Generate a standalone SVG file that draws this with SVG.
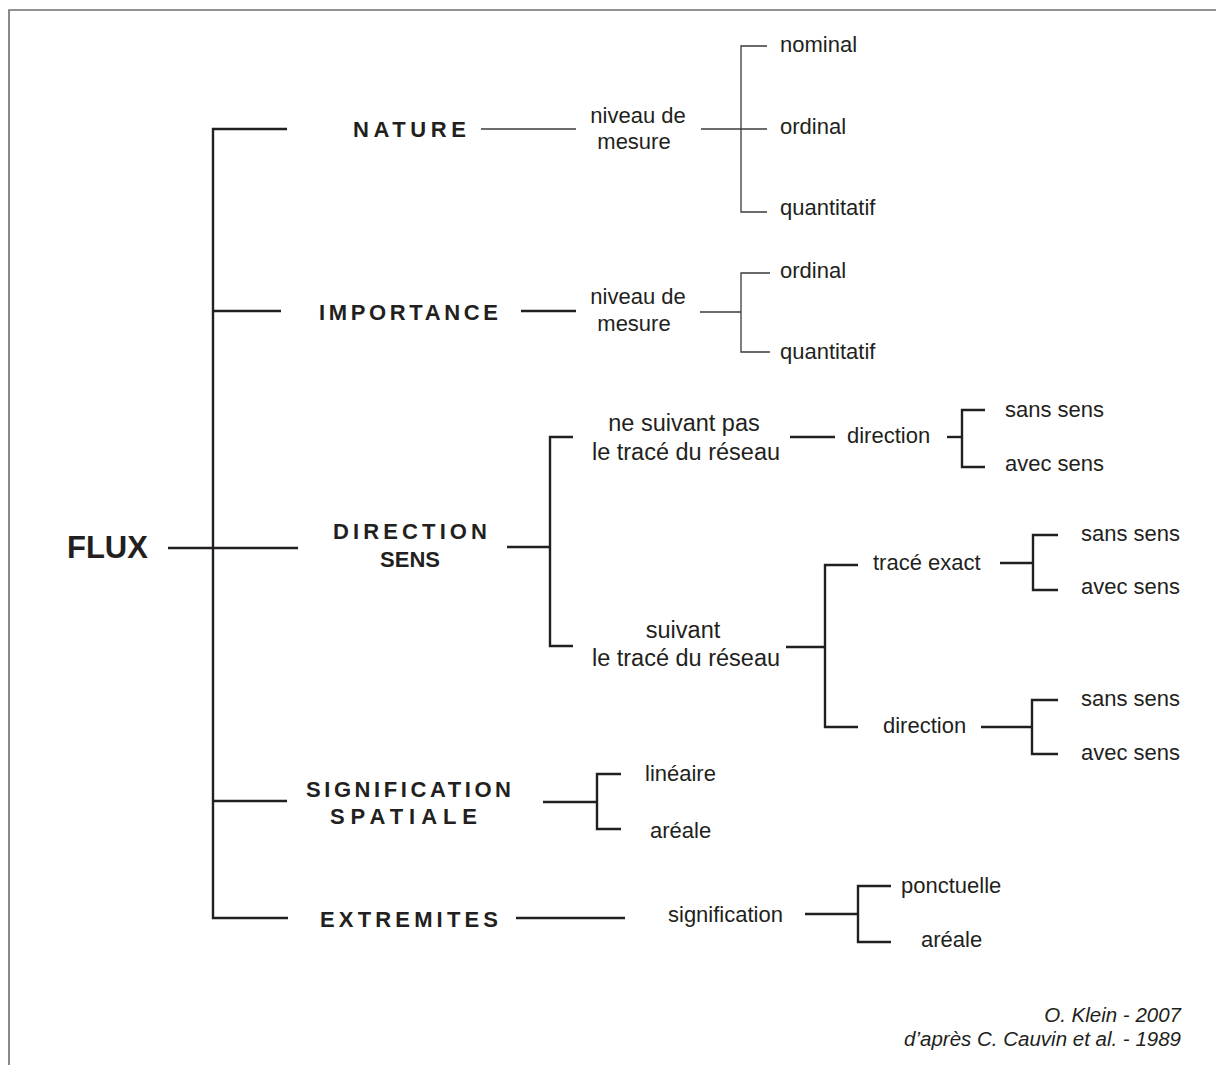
<svg xmlns="http://www.w3.org/2000/svg" width="1216" height="1065" viewBox="0 0 1216 1065">
  <style>
    .frame { fill: none; stroke: #6d6d6d; stroke-width: 1.6; }
    .thick { fill: none; stroke: #231f20; stroke-width: 2.4; }
    .thin { fill: none; stroke: #3a3a3a; stroke-width: 1.3; }
    .lbl { font-family: "Liberation Sans", Arial, sans-serif; font-size: 22px; fill: #231f20; }
    .big { font-size: 23.5px; }
    .cat { font-family: "Liberation Sans", Arial, sans-serif; font-size: 22px; font-weight: bold; fill: #231f20; }
    .root { font-family: "Liberation Sans", Arial, sans-serif; font-size: 31px; font-weight: bold; fill: #231f20; }
    .credit { font-family: "Liberation Sans", Arial, sans-serif; font-size: 20.5px; font-style: italic; fill: #231f20; text-anchor: end; }
    .mid { text-anchor: middle; }
  </style>

  <!-- page frame (top and left edges only) -->
  <path class="frame" d="M9,1065 V10 H1216"/>

  <!-- connectors -->
  <g id="connectors">
    <!-- main trunk -->
    <path class="thick" d="M168,548 H298"/>
    <path class="thick" d="M287,129 H213 V918 H288"/>
    <path class="thick" d="M213,311 H281"/>
    <path class="thick" d="M213,801 H287"/>

    <!-- NATURE -->
    <path class="thin" d="M481,129 H576"/>
    <path class="thin" d="M701,129 H767"/>
    <path class="thin" d="M767,46 H741 V212 H767"/>

    <!-- IMPORTANCE -->
    <path class="thick" d="M521,311 H576"/>
    <path class="thin" d="M700,312 H741"/>
    <path class="thin" d="M770,273 H741 V352 H770"/>

    <!-- DIRECTION SENS -->
    <path class="thick" d="M507,547 H550"/>
    <path class="thick" d="M573,437 H550 V646 H573"/>
    <path class="thick" d="M790,437 H835"/>
    <path class="thick" d="M947,437 H962"/>
    <path class="thick" d="M985,410 H962 V467 H985"/>
    <path class="thick" d="M786,647 H825"/>
    <path class="thick" d="M858,565 H825 V727 H858"/>
    <path class="thick" d="M1000,563 H1033"/>
    <path class="thick" d="M1058,535 H1033 V590 H1058"/>
    <path class="thick" d="M981,727 H1032"/>
    <path class="thick" d="M1058,700 H1032 V754 H1058"/>

    <!-- SIGNIFICATION SPATIALE -->
    <path class="thick" d="M543,802 H597"/>
    <path class="thick" d="M621,774 H597 V829 H621"/>

    <!-- EXTREMITES -->
    <path class="thick" d="M516,918 H625"/>
    <path class="thick" d="M805,914 H858"/>
    <path class="thick" d="M891,886 H858 V942 H891"/>
  </g>

  <!-- root -->
  <g id="flux"><text class="root" x="67" y="558">FLUX</text></g>

  <!-- NATURE branch -->
  <g id="nature"><text class="cat" x="353" y="137" textLength="113" lengthAdjust="spacing">NATURE</text></g>
  <g id="nature-niveau">
    <text class="lbl mid" x="638" y="123">niveau de</text>
    <text class="lbl mid" x="634" y="149">mesure</text>
  </g>
  <g id="nature-nominal"><text class="lbl" x="780" y="52">nominal</text></g>
  <g id="nature-ordinal"><text class="lbl" x="780" y="134">ordinal</text></g>
  <g id="nature-quantitatif"><text class="lbl" x="780" y="215">quantitatif</text></g>

  <!-- IMPORTANCE branch -->
  <g id="importance"><text class="cat" x="319" y="320" textLength="179" lengthAdjust="spacing">IMPORTANCE</text></g>
  <g id="importance-niveau">
    <text class="lbl mid" x="638" y="304">niveau de</text>
    <text class="lbl mid" x="634" y="331">mesure</text>
  </g>
  <g id="importance-ordinal"><text class="lbl" x="780" y="278">ordinal</text></g>
  <g id="importance-quantitatif"><text class="lbl" x="780" y="359">quantitatif</text></g>

  <!-- DIRECTION SENS branch -->
  <g id="direction-sens">
    <text class="cat" x="333" y="539" textLength="154" lengthAdjust="spacing">DIRECTION</text>
    <text class="cat" x="380" y="567" textLength="60" lengthAdjust="spacing">SENS</text>
  </g>
  <g id="hors-reseau">
    <text class="lbl big mid" x="684" y="431">ne suivant pas</text>
    <text class="lbl big mid" x="686" y="460">le tracé du réseau</text>
  </g>
  <g id="hors-reseau-direction"><text class="lbl" x="847" y="443">direction</text></g>
  <g id="hors-reseau-sans"><text class="lbl" x="1005" y="417">sans sens</text></g>
  <g id="hors-reseau-avec"><text class="lbl" x="1005" y="471">avec sens</text></g>

  <g id="reseau">
    <text class="lbl big mid" x="683" y="638">suivant</text>
    <text class="lbl big mid" x="686" y="666">le tracé du réseau</text>
  </g>
  <g id="trace-exact"><text class="lbl" x="873" y="570">tracé exact</text></g>
  <g id="trace-exact-sans"><text class="lbl" x="1081" y="541">sans sens</text></g>
  <g id="trace-exact-avec"><text class="lbl" x="1081" y="594">avec sens</text></g>
  <g id="reseau-direction"><text class="lbl" x="883" y="733">direction</text></g>
  <g id="reseau-direction-sans"><text class="lbl" x="1081" y="706">sans sens</text></g>
  <g id="reseau-direction-avec"><text class="lbl" x="1081" y="760">avec sens</text></g>

  <!-- SIGNIFICATION SPATIALE branch -->
  <g id="signification-spatiale">
    <text class="cat" x="306" y="797" textLength="205" lengthAdjust="spacing">SIGNIFICATION</text>
    <text class="cat" x="330" y="824" textLength="147" lengthAdjust="spacing">SPATIALE</text>
  </g>
  <g id="lineaire"><text class="lbl" x="645" y="781">linéaire</text></g>
  <g id="areale-spatiale"><text class="lbl" x="650" y="838">aréale</text></g>

  <!-- EXTREMITES branch -->
  <g id="extremites"><text class="cat" x="320" y="927" textLength="178" lengthAdjust="spacing">EXTREMITES</text></g>
  <g id="extremites-signification"><text class="lbl" x="668" y="922">signification</text></g>
  <g id="ponctuelle"><text class="lbl" x="901" y="893">ponctuelle</text></g>
  <g id="areale-extremites"><text class="lbl" x="921" y="947">aréale</text></g>

  <!-- credits -->
  <g id="credits">
    <text class="credit" x="1181" y="1022">O. Klein - 2007</text>
    <text class="credit" x="1181" y="1046">d’après C. Cauvin et al. - 1989</text>
  </g>
</svg>
